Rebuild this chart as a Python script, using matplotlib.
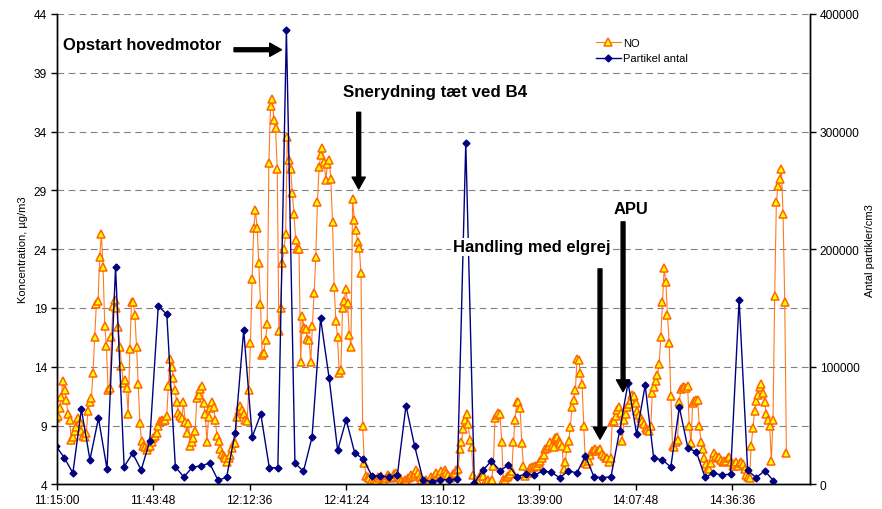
import numpy as np
import matplotlib.pyplot as plt

plt.rcParams['font.family'] = ['Liberation Sans', 'DejaVu Sans']

# NO concentration (µg/m3), one reading every 30 s, first reading 40 s before 11:15:00
no_start = -40
no_step = 30
no_values = [
    8.9, 9.6, 9.8, 10.5, 11.4, 12.8, 12.0, 11.2, 10.0, 9.5,
    7.8, 8.0, 8.5, 8.9, 9.6, 9.3, 8.5, 8.1, 8.0, 8.4,
    10.2, 11.0, 11.3, 13.5, 16.5, 19.3, 19.6, 23.3, 25.3, 22.5,
    17.5, 15.8, 12.0, 12.2, 16.5, 19.2, 19.7, 19.0, 17.4, 15.7,
    14.1, 12.6, 12.9, 12.2, 10.0, 15.5, 19.5, 19.5, 18.4, 15.7,
    12.5, 9.2, 7.7, 7.3, 7.2, 6.9, 7.2, 7.3, 7.6, 7.9,
    8.1, 8.4, 9.0, 9.4, 9.5, 9.4, 9.5, 9.8, 12.4, 14.7,
    14.0, 13.0, 12.0, 11.0, 10.1, 9.8, 9.6, 11.0, 9.3, 8.4,
    9.2, 7.3, 7.6, 7.9, 8.5, 11.3, 11.6, 12.1, 12.4, 10.9,
    10.0, 7.6, 9.7, 10.5, 11.0, 10.6, 9.5, 8.1, 7.7, 7.0,
    6.6, 6.4, 6.2, 5.9, 6.2, 6.5, 7.1, 7.5, 7.5, 9.7,
    10.2, 10.7, 10.3, 10.0, 9.5, 9.4, 12.0, 16.0, 21.5, 25.8,
    27.3, 25.8, 22.8, 19.3, 15.0, 15.2, 16.3, 17.6, 31.3, 36.2,
    36.8, 35.0, 34.3, 30.8, 17.0, 19.0, 22.8, 24.0, 25.3, 33.5,
    31.6, 30.8, 28.8, 27.0, 24.8, 24.0, 24.0, 14.4, 18.3, 17.3,
    17.2, 16.4, 16.3, 14.4, 17.5, 20.3, 23.3, 28.0, 31.0, 32.0,
    32.6, 31.4, 29.9, 31.2, 31.6, 30.0, 26.3, 20.8, 17.9, 16.5,
    13.5, 13.7, 19.0, 19.6, 20.6, 19.4, 16.7, 15.7, 28.3, 26.5,
    25.6, 24.6, 24.1, 22.0, 9.0, 5.8, 4.7, 4.6, 4.5, 4.3,
    4.2, 4.4, 4.3, 4.6, 4.5, 4.7, 4.3, 4.2, 4.5, 4.8,
    4.7, 4.5, 4.6, 4.9, 5.0, 4.7, 4.5, 4.3, 4.2, 4.4,
    4.3, 4.5, 4.6, 4.8, 4.7, 4.9, 5.2, 5.0, 4.6, 4.4,
    4.2, 4.3, 4.4, 4.2, 4.3, 4.6, 4.5, 4.8, 5.0, 4.7,
    4.9, 5.1, 4.8, 5.2, 5.0, 4.8, 4.5, 4.6, 4.9, 5.0,
    5.2, 5.3, 7.0, 7.6, 8.7, 9.5, 10.0, 9.1, 7.8, 7.2,
    4.8, 4.2, 4.0, 4.2, 4.7, 5.0, 4.7, 4.2, 4.0, 4.4,
    4.2, 4.4, 5.6, 9.6, 9.9, 10.1, 10.0, 7.6, 4.4, 4.4,
    4.6, 4.7, 4.9, 5.1, 7.6, 9.5, 11.0, 11.0, 10.5, 7.5,
    5.6, 4.7, 5.0, 5.0, 5.4, 5.5, 5.5, 5.6, 5.6, 5.8,
    6.0, 6.2, 6.5, 7.0, 7.1, 7.3, 7.6, 7.3, 7.2, 7.9,
    8.0, 7.7, 7.5, 7.3, 5.3, 5.9, 7.1, 7.7, 8.9, 10.6,
    11.2, 12.0, 14.7, 14.6, 13.5, 12.5, 9.0, 5.8, 5.7, 6.0,
    6.5, 6.8, 6.9, 7.0, 6.8, 6.9, 7.0, 6.6, 6.4, 6.2,
    6.2, 5.9, 6.2, 9.3, 9.4, 9.8, 10.3, 10.6, 10.1, 7.7,
    9.5, 10.0, 10.6, 10.8, 11.2, 11.6, 11.5, 10.9, 10.2, 9.9,
    9.6, 9.4, 9.1, 8.8, 8.6, 8.5, 9.0, 11.8, 12.3, 12.8,
    13.3, 14.2, 16.5, 19.5, 22.4, 21.2, 18.4, 16.0, 11.5, 7.3,
    7.2, 7.6, 7.8, 11.0, 12.1, 12.3, 12.3, 12.2, 12.4, 9.0,
    7.5, 10.9, 11.1, 11.2, 11.2, 9.0, 7.6, 7.0, 6.2, 5.7,
    5.4, 5.3, 5.8, 6.3, 6.7, 6.4, 6.2, 6.3, 6.1, 5.9,
    6.0, 6.0, 6.2, 6.3, 5.9, 5.6, 5.7, 5.9, 5.6, 5.8,
    5.9, 5.7, 5.3, 4.8, 4.6, 4.5, 7.3, 8.8, 10.2, 11.1,
    11.6, 12.3, 12.5, 11.8, 11.0, 10.0, 9.5, 9.0, 6.0, 9.5,
    20.0, 28.0, 29.4, 30.0, 30.8, 27.0, 19.5, 6.7,
]

# particle count (per cm3), one reading every ~153 s
pc_start = -17
pc_step = 153
pc_values = [
    32850, 22600, 9600, 63800, 20900, 56200, 13000, 184700, 15000, 26400,
    12200, 36600, 151500, 144700, 14700, 6200, 14700, 15600, 18100, 3400,
    6000, 43700, 131100, 40300, 59800, 14100, 14100, 386400, 18000, 11100,
    40000, 141300, 90500, 28900, 55000, 26600, 21500, 7300, 7300, 6200,
    8200, 66900, 32900, 3900, 2200, 3900, 3900, 4500, 290500, 1100,
    11900, 19800, 11600, 16400, 6500, 8800, 7900, 11100, 10500, 5400,
    11600, 9600, 24100, 6500, 5600, 6500, 45100, 86500, 42600, 84200,
    22100, 20900, 14700, 65500, 30900, 27500, 6200, 9400, 7900, 8800,
    157100, 11900, 5600, 11600, 3100,
]

tick_labels = ["11:15:00", "11:43:48", "12:12:36", "12:41:24",
               "13:10:12", "13:39:00", "14:07:48", "14:36:36"]


def secs(s):
    h, m, sec = map(int, s.split(":"))
    return h * 3600 + m * 60 + sec - 11 * 3600 - 15 * 60


no_t = no_start + no_step * np.arange(len(no_values))
pc_t = pc_start + pc_step * np.arange(len(pc_values))
tick_pos = [secs(s) for s in tick_labels]

fig = plt.figure(figsize=(8.82, 5.10), dpi=100)
ax = fig.add_axes([0.0643, 0.0484, 0.8541, 0.9222])
ax2 = ax.twinx()

ax.plot(no_t, no_values, color='#FF7A22', lw=0.8, marker='^', ms=5.6,
        mfc='#FFFF00', mec='#FF6600', mew=1.1, label='NO')
ax2.plot(pc_t, pc_values, color='#000080', lw=1, marker='D', ms=3.5,
         mfc='#000080', mec='#000080', label='Partikel antal')

ax.set_xlim(0, 13493)
ax.set_ylim(4, 44)
ax2.set_ylim(0, 400000)
ax.set_yticks(np.arange(4, 45, 5))
ax2.set_yticks(np.arange(0, 400001, 100000))
ax.set_xticks(tick_pos)
ax.set_xticklabels(tick_labels)

ax.yaxis.grid(True, color='#808080', lw=0.8, linestyle=(0, (6, 4)))
for a in (ax, ax2):
    a.spines['top'].set_visible(False)
    for s in ('left', 'right', 'bottom'):
        a.spines[s].set_linewidth(1)
    a.tick_params(labelsize=8.6, length=4, width=1, pad=3)

ax.set_ylabel('Koncentration, µg/m3', fontsize=8, labelpad=4)
ax2.set_ylabel('Antal partikler/cm3', fontsize=8, labelpad=4)

h1, l1 = ax.get_legend_handles_labels()
h2, l2 = ax2.get_legend_handles_labels()
ax2.legend(h1 + h2, l1 + l2, loc='upper left', bbox_to_anchor=(0.708, 0.961),
           frameon=False, fontsize=8, borderpad=0, handlelength=2.3,
           handletextpad=0.2, labelspacing=0.5)

box = dict(facecolor='white', edgecolor='none', pad=1)
arrow = dict(facecolor='black', edgecolor='black', width=2.8, headwidth=9.5,
             headlength=8.5, shrink=0)

ax2.text(0.009, 0.935, 'Opstart hovedmotor', transform=ax2.transAxes,
         fontsize=11.9, fontweight='bold', va='center', ha='left', bbox=box)
ax2.annotate('', xy=(0.2984, 0.924), xytext=(0.2354, 0.924),
             xycoords='axes fraction', arrowprops=arrow)

ax2.text(0.3805, 0.836, 'Snerydning tæt ved B4', transform=ax2.transAxes,
         fontsize=12.2, fontweight='bold', va='center', ha='left', bbox=box)
ax2.annotate('', xy=(0.4009, 0.628), xytext=(0.4009, 0.791),
             xycoords='axes fraction', arrowprops=arrow)

ax2.text(0.5257, 0.505, 'Handling med elgrej', transform=ax2.transAxes,
         fontsize=11.9, fontweight='bold', va='center', ha='left', bbox=box)
ax2.annotate('', xy=(0.7212, 0.096), xytext=(0.7212, 0.458),
             xycoords='axes fraction', arrowprops=arrow)

ax2.text(0.7398, 0.5875, 'APU', transform=ax2.transAxes,
         fontsize=11.9, fontweight='bold', va='center', ha='left', bbox=box)
ax2.annotate('', xy=(0.7518, 0.197), xytext=(0.7518, 0.558),
             xycoords='axes fraction', arrowprops=arrow)

fig.savefig('out.png', dpi=100)
